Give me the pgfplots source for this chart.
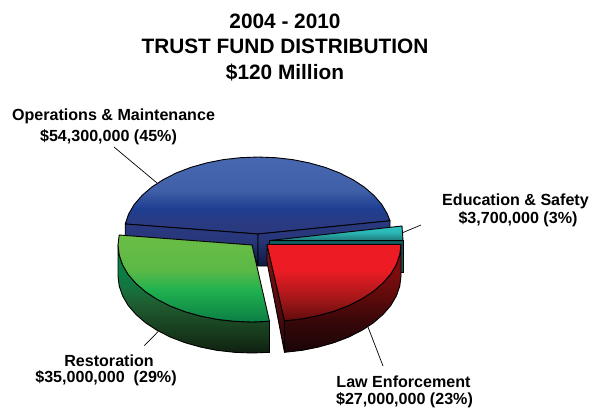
\documentclass[border=0pt]{standalone}
\usepackage{fontspec}
\setmainfont{Liberation Sans}
\usepackage{pgfplots}
\pgfplotsset{compat=1.18}

% vertical shadings: 25bp = bottom of the path, 75bp = top of the path
\pgfdeclareverticalshading{bluetop}{100bp}{
  color(0bp)=(rgb,255:red,42;green,58;blue,128);
  color(31.5bp)=(rgb,255:red,42;green,58;blue,128);
  color(41.9bp)=(rgb,255:red,31;green,63;blue,146);
  color(53.6bp)=(rgb,255:red,64;green,96;blue,168);
  color(75bp)=(rgb,255:red,71;green,103;blue,176);
  color(100bp)=(rgb,255:red,71;green,103;blue,176)}
\pgfdeclareverticalshading{bluewall}{100bp}{
  color(0bp)=(rgb,255:red,13;green,26;blue,64);
  color(25bp)=(rgb,255:red,13;green,26;blue,64);
  color(55bp)=(rgb,255:red,40;green,54;blue,122);
  color(75bp)=(rgb,255:red,42;green,58;blue,128);
  color(100bp)=(rgb,255:red,42;green,58;blue,128)}
\pgfdeclareverticalshading{tealtop}{100bp}{
  color(0bp)=(rgb,255:red,31;green,120;blue,120);
  color(25bp)=(rgb,255:red,31;green,120;blue,120);
  color(55bp)=(rgb,255:red,45;green,185;blue,185);
  color(75bp)=(rgb,255:red,47;green,192;blue,192);
  color(100bp)=(rgb,255:red,47;green,192;blue,192)}
\pgfdeclareverticalshading{greentop}{100bp}{
  color(0bp)=(rgb,255:red,11;green,127;blue,69);
  color(25bp)=(rgb,255:red,11;green,127;blue,69);
  color(43.4bp)=(rgb,255:red,32;green,177;blue,79);
  color(54.9bp)=(rgb,255:red,91;green,185;blue,71);
  color(75bp)=(rgb,255:red,107;green,189;blue,69);
  color(100bp)=(rgb,255:red,107;green,189;blue,69)}
\pgfdeclareverticalshading{greenwall}{100bp}{
  color(0bp)=(rgb,255:red,15;green,31;blue,16);
  color(25bp)=(rgb,255:red,15;green,31;blue,16);
  color(32.6bp)=(rgb,255:red,22;green,54;blue,26);
  color(47.5bp)=(rgb,255:red,31;green,92;blue,48);
  color(54bp)=(rgb,255:red,23;green,112;blue,60);
  color(62bp)=(rgb,255:red,10;green,127;blue,69);
  color(100bp)=(rgb,255:red,10;green,127;blue,69)}
\pgfdeclareverticalshading{redtop}{100bp}{
  color(0bp)=(rgb,255:red,95;green,11;blue,11);
  color(25bp)=(rgb,255:red,95;green,11;blue,11);
  color(38.7bp)=(rgb,255:red,160;green,23;blue,25);
  color(58.3bp)=(rgb,255:red,237;green,28;blue,36);
  color(100bp)=(rgb,255:red,237;green,28;blue,36)}
\pgfdeclareverticalshading{redwall}{100bp}{
  color(0bp)=(rgb,255:red,26;green,5;blue,7);
  color(25bp)=(rgb,255:red,26;green,5;blue,7);
  color(38bp)=(rgb,255:red,51;green,7;blue,9);
  color(49.5bp)=(rgb,255:red,90;green,10;blue,11);
  color(62bp)=(rgb,255:red,125;green,12;blue,14);
  color(100bp)=(rgb,255:red,125;green,12;blue,14)}
\pgfdeclareverticalshading{redside}{100bp}{
  color(0bp)=(rgb,255:red,38;green,6;blue,7);
  color(25bp)=(rgb,255:red,38;green,6;blue,7);
  color(75bp)=(rgb,255:red,142;green,18;blue,22);
  color(100bp)=(rgb,255:red,142;green,18;blue,22)}
\definecolor{tealband}{RGB}{15,91,91}

\tikzset{
  face/.style={draw=black,line width=0.9pt,line join=round,shading=#1},
  lead/.style={draw=black,line width=0.7pt},
  lab/.style={anchor=base,inner sep=0pt,font=\fontsize{16.15}{19}\selectfont\bfseries},
  ttl/.style={anchor=base,inner sep=0pt,font=\fontsize{20.9}{24}\selectfont\bfseries}
}

\begin{document}
\begin{tikzpicture}
\path[use as bounding box] (0,0) rectangle (590bp,408bp);
\begin{axis}[
  at={(0,0)},anchor=south west,
  width=590bp,height=408bp,scale only axis,
  xmin=0,xmax=590,ymin=0,ymax=408,y dir=reverse,
  hide axis,clip=false,
  every axis plot/.append style={mark=none}
]
% Operations & Maintenance, top
\addplot[face=bluetop] coordinates {
 (258,234) (125.2,224) (128.6,214.1) (134.2,204.5) (142,195.5) (151.7,187.1) (163.2,179.6)
 (176.4,172.9) (191,167.3) (206.7,162.9) (223.3,159.6) (240.5,157.7) (258,157)
 (275.5,157.7) (292.7,159.6) (309.3,162.9) (325,167.3) (339.6,172.9) (352.8,179.6)
 (364.3,187.1) (374,195.5) (381.8,204.5) (387.4,214.1) (390,220.8) (258,234)};
% its cut faces
\addplot[face=bluewall] coordinates {
 (125.2,224) (258,234) (258,266) (250,245) (125.2,237) (125.2,224)};
\addplot[face=bluewall] coordinates {
 (258,234) (390,220.8) (390,240) (268,245) (268,266) (258,266) (258,234)};
% Education & Safety
\addplot[face=tealtop] coordinates {(270,240.5) (402,226) (403,240.5) (270,240.5)};
\addplot[draw=black,line width=0.9pt,fill=tealband] coordinates {
 (269,240.5) (403,240.5) (403,272) (400,272) (400,246) (269,246) (269,240.5)};
% Restoration, wall and top
\addplot[face=greenwall] coordinates {
 (118,245) (119.2,255) (122.6,264.9) (128.2,274.5) (136,283.5) (145.7,291.9) (157.2,299.4)
 (170.4,306.1) (185,311.7) (200.7,316.1) (217.3,319.4) (234.5,321.3) (252,322) (269.5,321.3)
 (269.5,352.3) (252,353) (234.5,352.3) (217.3,350.4) (200.7,347.1) (185,342.7) (170.4,337.1)
 (157.2,330.4) (145.7,322.9) (136,314.5) (128.2,305.5) (122.6,295.9) (119.2,286) (118,276)
 (118,245)};
\addplot[face=greentop] coordinates {
 (252,245) (119.2,235) (118,245) (119.2,255) (122.6,264.9) (128.2,274.5) (136,283.5)
 (145.7,291.9) (157.2,299.4) (170.4,306.1) (185,311.7) (200.7,316.1) (217.3,319.4)
 (234.5,321.3) (252,322) (269.5,321.3) (252,245)};
% Law Enforcement, walls and top
\addplot[face=redside] coordinates {
 (267,244.5) (267,262) (284.5,352.3) (284.5,320.8) (267,244.5)};
\addplot[face=redwall] coordinates {
 (401,244.5) (399.8,254.5) (396.4,264.4) (390.8,274) (383,283) (373.3,291.4) (361.8,298.9)
 (348.6,305.6) (334,311.2) (318.3,315.6) (301.7,318.9) (284.5,320.8)
 (284.5,352.3) (301.7,350.4) (318.3,347.1) (334,342.7) (348.6,337.1) (361.8,330.4)
 (373.3,322.9) (383,314.5) (390.8,305.5) (396.4,295.9) (399.8,286) (401,276) (401,244.5)};
\addplot[face=redtop] coordinates {
 (267,244.5) (401,244.5) (399.8,254.5) (396.4,264.4) (390.8,274) (383,283) (373.3,291.4)
 (361.8,298.9) (348.6,305.6) (334,311.2) (318.3,315.6) (301.7,318.9) (284.5,320.8) (267,244.5)};
% leader lines
\addplot[lead] coordinates {(114,147) (156.7,182.7)};
\addplot[lead] coordinates {(403,232.5) (421,225)};
\addplot[lead] coordinates {(368,327) (383,366)};
\addplot[lead] coordinates {(158,331.7) (144.3,345.7)};

\node[ttl] at (axis cs:285,29) {2004 - 2010};
\node[ttl] at (axis cs:285,53) {TRUST FUND DISTRIBUTION};
\node[ttl] at (axis cs:285,79) {\$120 Million};
\node[lab] at (axis cs:113.5,120) {Operations \& Maintenance};
\node[lab] at (axis cs:108.5,141) {\$54,300,000 (45\%)};
\node[lab] at (axis cs:515.5,205) {Education \& Safety};
\node[lab] at (axis cs:518,223) {\$3,700,000 (3\%)};
\node[lab] at (axis cs:109,366) {Restoration};
\node[lab] at (axis cs:106,382) {\$35,000,000\ \ (29\%)};
\node[lab] at (axis cs:403.5,387) {Law Enforcement};
\node[lab] at (axis cs:404.5,404.5) {\$27,000,000 (23\%)};
\end{axis}
\end{tikzpicture}
\end{document}
